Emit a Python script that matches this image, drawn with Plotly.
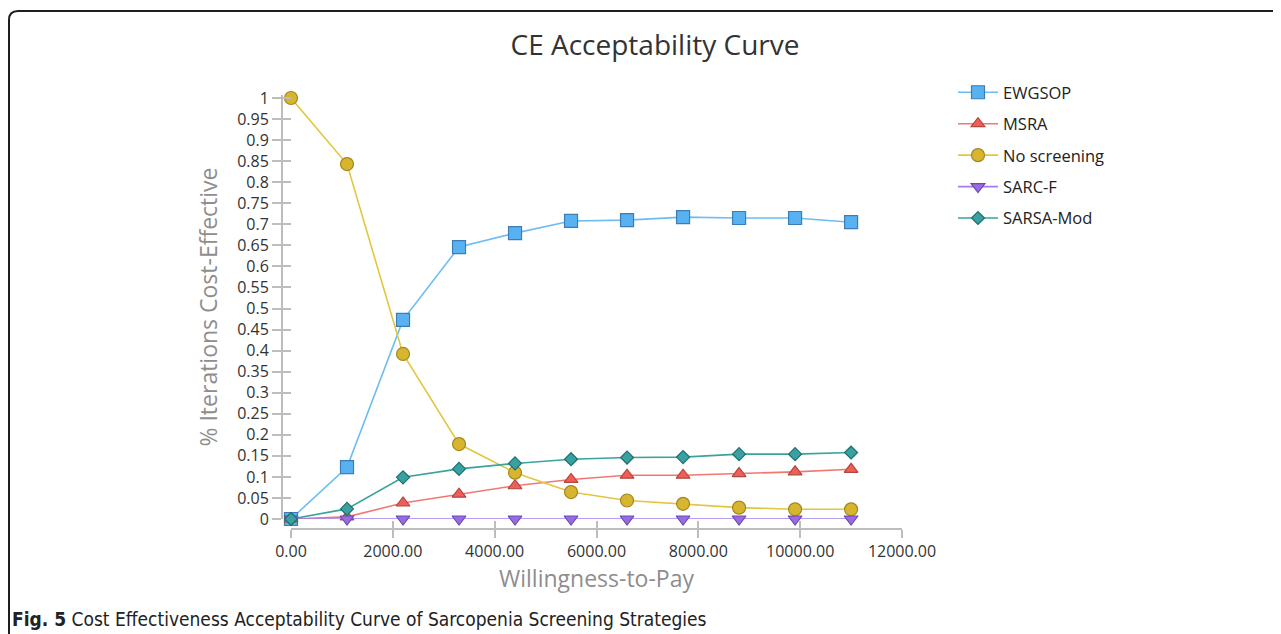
import plotly.graph_objects as go

# ---------------- data ----------------
wtp = [0, 1100, 2200, 3300, 4400, 5500, 6600, 7700, 8800, 9900, 11000]
ewgsop = [0.0, 0.123, 0.473, 0.646, 0.679, 0.708, 0.710, 0.717, 0.715, 0.715, 0.705]
msra = [0.0, 0.005, 0.038, 0.059, 0.079, 0.094, 0.104, 0.104, 0.108, 0.112, 0.118]
no_screening = [1.0, 0.843, 0.392, 0.178, 0.110, 0.064, 0.044, 0.036, 0.027, 0.023, 0.023]
sarc_f = [0.0, 0.0, 0.0, 0.0, 0.0, 0.0, 0.0, 0.0, 0.0, 0.0, 0.0]
sarsa_mod = [0.0, 0.024, 0.099, 0.119, 0.132, 0.142, 0.146, 0.147, 0.154, 0.154, 0.158]

series_names = ["EWGSOP", "MSRA", "No screening", "SARC-F", "SARSA-Mod"]
y_ticks = [round(i * 0.05, 2) for i in range(21)]
x_ticks = [0, 2000, 4000, 6000, 8000, 10000, 12000]

# ---------------- layout geometry ----------------
# the page body has an 8px margin, so the figure is 8px smaller and all
# window-pixel positions are shifted by that offset
OFF = 8
WIN_W, WIN_H = 1281, 634
W, H = WIN_W - OFF, WIN_H - OFF
L, R, T, B = 192, 141, 52, 74
PW, PH = W - L - R, H - T - B


def px2x(px):
    return (px - OFF - L) / PW


def px2y(py):
    return (H - B - (py - OFF)) / PH


styles = {
    "EWGSOP": dict(line="#6CBDF0", fill="#58B2F2", edge="#3C7DB6", symbol="square", size=13),
    "MSRA": dict(line="#F07873", fill="#EE5F57", edge="#B4463F", symbol="triangle-up", size=12),
    "No screening": dict(line="#E2C63E", fill="#D8B52F", edge="#A38821", symbol="circle", size=13),
    "SARC-F": dict(line="#A07CF0", fill="#9A6BE4", edge="#6C4AAD", symbol="triangle-down", size=12),
    "SARSA-Mod": dict(line="#3AA39C", fill="#38A2A2", edge="#236D6D", symbol="diamond", size=10),
}
values = {
    "EWGSOP": ewgsop,
    "MSRA": msra,
    "No screening": no_screening,
    "SARC-F": sarc_f,
    "SARSA-Mod": sarsa_mod,
}

fig = go.Figure()
for name in series_names:
    s = styles[name]
    fig.add_trace(go.Scatter(
        x=wtp, y=values[name], name=name, mode="lines+markers",
        legendgroup=name,
        line=dict(color=s["line"], width=1.6),
        marker=dict(symbol=s["symbol"], size=s["size"], color=s["fill"],
                    line=dict(color=s["edge"], width=1.2)),
        cliponaxis=False,
    ))

# invisible helper trace for the overlay axes (inner halves of the crossing ticks)
fig.add_trace(go.Scatter(x=[], y=[], xaxis="x2", yaxis="y2", showlegend=False,
                         hoverinfo="skip"))

x_dom = [px2x(291), px2x(902)]
y_dom = [px2y(519), px2y(95)]
y_top = (519 - 95) / 421
axis_grey = "#BDBDBD"
tick_font = dict(family="Open Sans, Noto Sans, sans-serif", size=16, color="#333333")
title_font = dict(family="Open Sans, Noto Sans, sans-serif", size=23, color="#8E8E8E")

fig.update_layout(
    width=W, height=H,
    margin=dict(l=L, r=R, t=T, b=B),
    paper_bgcolor="white", plot_bgcolor="white",
    title=dict(text="CE Acceptability Curve", x=(655 - OFF) / W, xref="container",
               xanchor="center", y=1 - (45 - OFF) / H, yref="container", yanchor="middle",
               font=dict(family="Open Sans, Noto Sans, sans-serif", size=28, color="#333333")),
    xaxis=dict(domain=x_dom, range=[0, 12000], anchor="free", position=px2y(529),
               tickvals=x_ticks, tickformat=".2f", ticks="outside", ticklen=8,
               tickwidth=1.5, tickcolor=axis_grey, showline=True, linecolor=axis_grey,
               linewidth=2, showgrid=False, zeroline=False, tickfont=tick_font,
               title=dict(text="Willingness-to-Pay", font=title_font, standoff=6)),
    yaxis=dict(domain=y_dom, range=[0, y_top], anchor="free", position=px2x(282),
               tickvals=y_ticks, ticks="outside", ticklen=9, tickwidth=1.5,
               tickcolor=axis_grey, showline=True, linecolor=axis_grey, linewidth=2,
               showgrid=False, zeroline=False, tickfont=tick_font,
               title=dict(text="% Iterations Cost-Effective", font=title_font, standoff=12)),
    xaxis2=dict(overlaying="x", range=[0, 12000], anchor="free", position=px2y(529),
                tickvals=x_ticks, ticks="inside", ticklen=8, tickwidth=1.5,
                tickcolor=axis_grey, showticklabels=False, showline=False,
                showgrid=False, zeroline=False),
    yaxis2=dict(overlaying="y", range=[0, y_top], anchor="free", position=px2x(282),
                tickvals=y_ticks, ticks="inside", ticklen=8, tickwidth=1.5,
                tickcolor=axis_grey, showticklabels=False, showline=False,
                showgrid=False, zeroline=False),
    legend=dict(x=px2x(953), y=px2y(75), xanchor="left", yanchor="top",
                font=dict(family="Open Sans, Noto Sans, sans-serif", size=16.5, color="#222222"),
                itemwidth=40, tracegroupgap=7, bgcolor="rgba(0,0,0,0)"),
    showlegend=True,
)

# frame around the figure (rounded top-left corner)
x0, y0, rad = 9, 11, 9
path = (f"M {px2x(x0)},{px2y(WIN_H + 10)} L {px2x(x0)},{px2y(y0 + rad)} "
        f"Q {px2x(x0)},{px2y(y0)} {px2x(x0 + rad)},{px2y(y0)} L {px2x(WIN_W + 10)},{px2y(y0)}")
fig.add_shape(type="path", path=path, xref="paper", yref="paper",
              line=dict(color="#1E1E1E", width=2))

# caption
fig.add_annotation(
    text="<b>Fig. 5</b> Cost Effectiveness Acceptability Curve of Sarcopenia Screening Strategies",
    xref="paper", yref="paper", x=px2x(10), y=px2y(619), xanchor="left", yanchor="middle",
    showarrow=False,
    font=dict(family="DejaVu Sans Condensed, Liberation Sans Narrow, Open Sans, sans-serif",
              size=19, color="#222222"),
)

fig.write_html("out.html")
